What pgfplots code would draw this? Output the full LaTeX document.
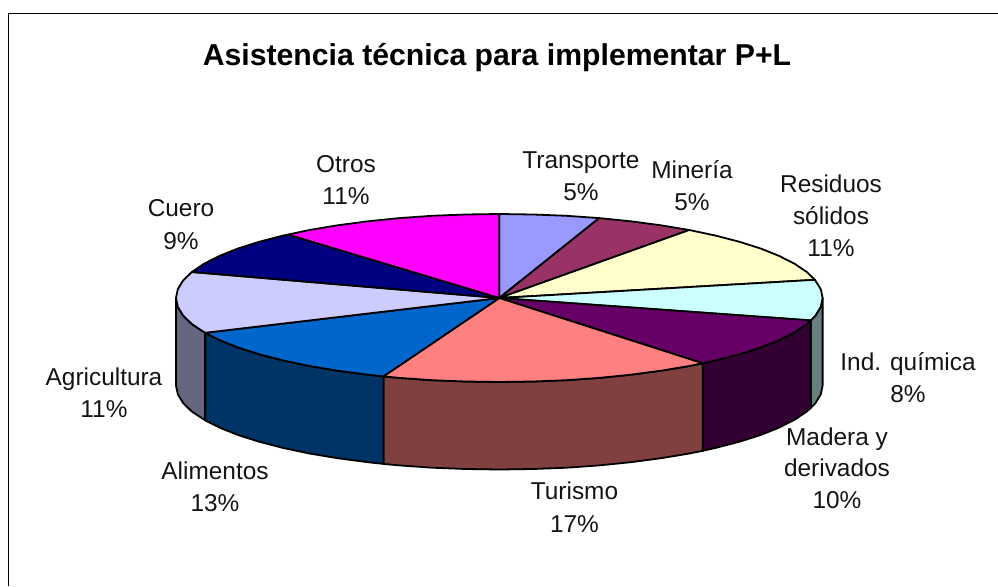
\documentclass[border=0pt]{standalone}
\usepackage{pgfplots}
\pgfplotsset{compat=1.18}
\usepackage{fontspec}
\setmainfont{Liberation Sans}
\definecolor{cTrans}{HTML}{9999FF}
\definecolor{cMin}{HTML}{993366}
\definecolor{cRes}{HTML}{FFFFCC}
\definecolor{cInd}{HTML}{CCFFFF}
\definecolor{cMad}{HTML}{660066}
\definecolor{cTur}{HTML}{FF8080}
\definecolor{cAli}{HTML}{0066CC}
\definecolor{cAgr}{HTML}{CCCCFF}
\definecolor{cCue}{HTML}{000080}
\definecolor{cOtr}{HTML}{FF00FF}
\definecolor{sInd}{HTML}{668080}
\definecolor{sMad}{HTML}{330033}
\definecolor{sTur}{HTML}{804040}
\definecolor{sAli}{HTML}{003366}
\definecolor{sAgr}{HTML}{666680}
\newcommand{\lb}[3]{\node[anchor=base,inner sep=0pt,font=\fontsize{24.4}{28}\selectfont,text=black!92] at (axis cs:#1,#2) {#3};}
\begin{document}
\begin{tikzpicture}
\begin{axis}[
  scale only axis, width=998pt, height=586pt,
  xmin=0, xmax=998, ymin=0, ymax=586, y dir=reverse,
  hide axis, clip=false,
  every axis plot/.append style={line width=1.8pt, draw=black, line join=round},
]
\path[use as bounding box] (axis cs:0,0) rectangle (axis cs:998,586);
% frame
\addplot[line width=1.8pt] coordinates {(8.5,586) (8.5,13.5) (998,13.5)};
% side faces
\addplot[fill=sInd] coordinates {(822.6,298.0) (820.8,306.8) (815.5,315.5) (810.8,320.4) (810.8,407.9) (815.5,403.0) (820.8,394.3) (822.6,385.5)} -- cycle;
\addplot[fill=sMad] coordinates {(810.8,320.4) (806.8,324.0) (794.6,332.2) (779.3,340.0) (760.9,347.4) (739.5,354.2) (715.6,360.4) (702.8,363.3) (702.8,450.8) (715.6,447.9) (739.5,441.7) (760.9,434.9) (779.3,427.5) (794.6,419.7) (806.8,411.5) (810.8,407.9)} -- cycle;
\addplot[fill=sTur] coordinates {(702.8,363.3) (689.3,366.0) (661.0,370.7) (630.8,374.7) (599.2,377.9) (566.5,380.2) (533.1,381.5) (499.3,382.0) (465.5,381.5) (432.1,380.2) (399.4,377.9) (383.4,376.4) (383.4,463.9) (399.4,465.4) (432.1,467.7) (465.5,469.0) (499.3,469.5) (533.1,469.0) (566.5,467.7) (599.2,465.4) (630.8,462.2) (661.0,458.2) (689.3,453.5) (702.8,450.8)} -- cycle;
\addplot[fill=sAli] coordinates {(383.4,376.4) (367.8,374.7) (337.6,370.7) (309.3,366.0) (283.0,360.4) (259.1,354.2) (237.7,347.4) (219.3,340.0) (205.1,332.8) (205.1,420.3) (219.3,427.5) (237.7,434.9) (259.1,441.7) (283.0,447.9) (309.3,453.5) (337.6,458.2) (367.8,462.2) (383.4,463.9)} -- cycle;
\addplot[fill=sAgr] coordinates {(205.1,332.8) (191.8,324.0) (183.1,315.5) (177.8,306.8) (176.0,298.0) (176.0,385.5) (177.8,394.3) (183.1,403.0) (191.8,411.5) (205.1,420.3)} -- cycle;
% top faces
\addplot[fill=cTrans] coordinates {(499.3,298) (499.3,214.0) (533.1,214.5) (566.5,215.8) (599.2,218.1)} -- cycle;
\addplot[fill=cMin] coordinates {(499.3,298) (599.2,218.1) (630.8,221.3) (661.0,225.3) (689.3,230.0)} -- cycle;
\addplot[fill=cRes] coordinates {(499.3,298) (689.3,230.0) (715.6,235.6) (739.5,241.8) (760.9,248.6) (779.3,256.0) (794.6,263.8) (806.8,272.0) (814.9,279.8)} -- cycle;
\addplot[fill=cInd] coordinates {(499.3,298) (814.9,279.8) (820.8,289.2) (822.6,298.0) (820.8,306.8) (815.5,315.5) (810.8,320.4)} -- cycle;
\addplot[fill=cMad] coordinates {(499.3,298) (810.8,320.4) (806.8,324.0) (794.6,332.2) (779.3,340.0) (760.9,347.4) (739.5,354.2) (715.6,360.4) (702.8,363.3)} -- cycle;
\addplot[fill=cTur] coordinates {(499.3,298) (702.8,363.3) (689.3,366.0) (661.0,370.7) (630.8,374.7) (599.2,377.9) (566.5,380.2) (533.1,381.5) (499.3,382.0) (465.5,381.5) (432.1,380.2) (399.4,377.9) (383.4,376.4)} -- cycle;
\addplot[fill=cAli] coordinates {(499.3,298) (383.4,376.4) (367.8,374.7) (337.6,370.7) (309.3,366.0) (283.0,360.4) (259.1,354.2) (237.7,347.4) (219.3,340.0) (205.1,332.8)} -- cycle;
\addplot[fill=cAgr] coordinates {(499.3,298) (205.1,332.8) (191.8,324.0) (183.1,315.5) (177.8,306.8) (176.0,298.0) (177.8,289.2) (183.1,280.5) (191.8,272.0)} -- cycle;
\addplot[fill=cCue] coordinates {(499.3,298) (191.8,272.0) (204.0,263.8) (219.3,256.0) (237.7,248.6) (259.1,241.8) (283.0,235.6) (288.0,234.6)} -- cycle;
\addplot[fill=cOtr] coordinates {(499.3,298) (288.0,234.6) (309.3,230.0) (337.6,225.3) (367.8,221.3) (399.4,218.1) (432.1,215.8) (465.5,214.5) (499.3,214.0)} -- cycle;
% title
\node[anchor=base,inner sep=0pt,font=\fontsize{30.2}{36}\selectfont\bfseries] at (axis cs:497,66) {Asistencia técnica para implementar P+L};
% labels
\lb{581}{168}{Transporte} \lb{581}{200}{5\%}
\lb{692}{178}{Minería} \lb{692}{210}{5\%}
\lb{831}{192}{Residuos} \lb{831}{224}{sólidos} \lb{831}{256}{11\%}
\lb{908}{370}{Ind. química} \lb{908}{402}{8\%}
\lb{837}{445}{Madera y} \lb{837}{476}{derivados} \lb{837}{508}{10\%}
\lb{574.5}{499}{Turismo} \lb{574.5}{532}{17\%}
\lb{215}{479}{Alimentos} \lb{215}{511}{13\%}
\lb{104}{385}{Agricultura} \lb{104}{417}{11\%}
\lb{181}{216}{Cuero} \lb{181}{249}{9\%}
\lb{346}{172}{Otros} \lb{346}{204}{11\%}
\end{axis}
\end{tikzpicture}
\end{document}
